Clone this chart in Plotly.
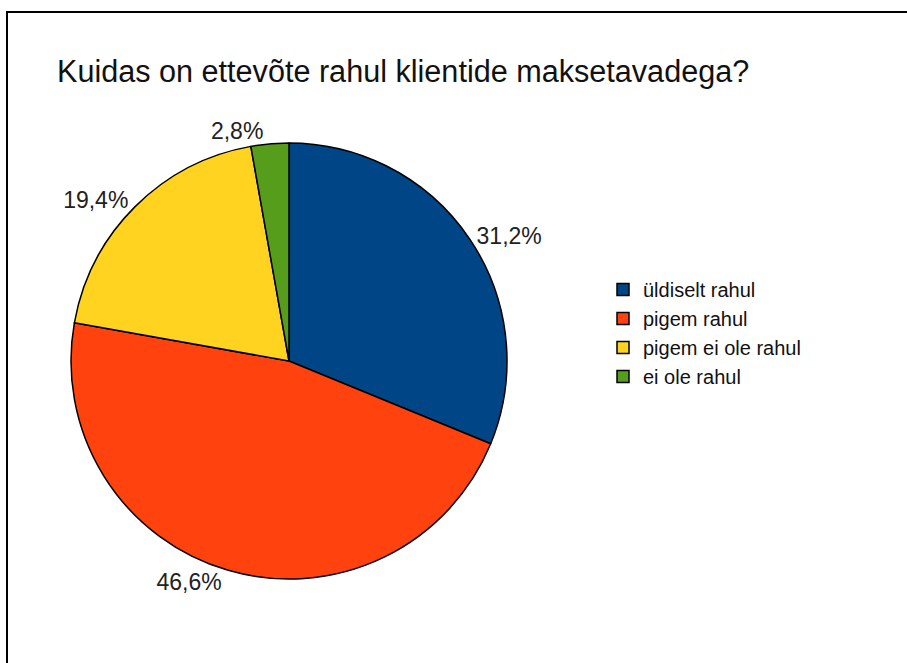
import plotly.graph_objects as go

labels = ["üldiselt rahul", "pigem rahul", "pigem ei ole rahul", "ei ole rahul"]
values = [31.2, 46.6, 19.4, 2.8]
colors = ["#004586", "#ff420e", "#ffd320", "#579d1c"]
title = "Kuidas on ettevõte rahul klientide maksetavadega?"

W, H = 907, 663
cx, cy, r = 289, 361, 218

fig = go.Figure(go.Pie(
    labels=labels, values=values, sort=False, direction="clockwise", rotation=0,
    marker=dict(colors=colors, line=dict(color="black", width=1.5)),
    textposition="outside", texttemplate="%{percent:.1%}",
    textfont=dict(family="Liberation Sans, Arial", size=23, color="#222"),
    domain=dict(x=[(cx - r) / W, (cx + r) / W], y=[(H - cy - r) / H, (H - cy + r) / H]),
    showlegend=True,
))

fig.update_layout(
    width=W, height=H, margin=dict(l=0, r=0, t=0, b=0),
    paper_bgcolor="white", plot_bgcolor="white",
    separators=",.",
    font=dict(family="Liberation Sans, Arial", color="black"),
    title=dict(text=title, x=57 / W, xanchor="left", xref="paper",
               y=1 - 71 / H, yanchor="middle", yref="paper",
               font=dict(size=30.6, color="#111")),
    legend=dict(x=603 / W, xanchor="left", y=1 - 270 / H, yanchor="top",
                font=dict(size=20, color="#111"), traceorder="normal",
                itemwidth=30, bgcolor="rgba(0,0,0,0)", tracegroupgap=0),
    shapes=[dict(type="rect", xref="paper", yref="paper",
                 x0=7 / W, x1=1.02, y0=-0.02, y1=1 - 12 / H,
                 line=dict(color="black", width=2))],
)

fig.write_html("out.html")
